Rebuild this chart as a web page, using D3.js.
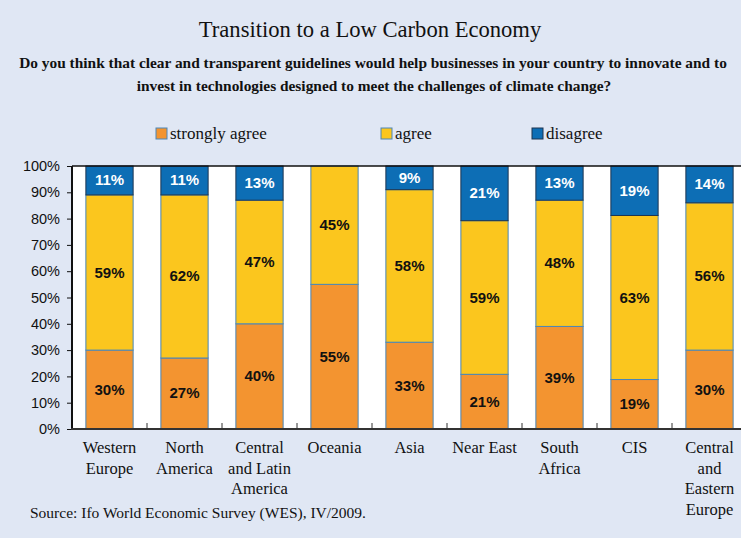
<!DOCTYPE html>
<html>
<head>
<meta charset="utf-8">
<script src="https://cdn.jsdelivr.net/npm/d3@7"></script>
<style>
  body { margin: 0; background: #e0e7f4; }
  svg { display: block; }
</style>
</head>
<body>
<script>
const W = 741, H = 538;
const regions = [["Western", "Europe"], ["North", "America"], ["Central", "and Latin", "America"], ["Oceania"], ["Asia"], ["Near East"], ["South", "Africa"], ["CIS"], ["Central", "and", "Eastern", "Europe"]];
const stronglyAgree = [30, 27, 40, 55, 33, 21, 39, 19, 30];
const agree = [59, 62, 47, 45, 58, 59, 48, 63, 56];
const disagree = [11, 11, 13, 0, 9, 21, 13, 19, 14];
const seriesNames = ["strongly agree", "agree", "disagree"];
const yTicks = [0, 0.1, 0.2, 0.3, 0.4, 0.5, 0.6, 0.7, 0.8, 0.9, 1];

const colors = {"strongly agree": "#f39430", "agree": "#fbc61e", "disagree": "#0d6eb5"};
const strokes = {"strongly agree": "#4a86b8", "agree": "#4a86b8", "disagree": "#1d3550"};

const rows = regions.map((r, i) => ({
  key: i,
  "strongly agree": stronglyAgree[i],
  "agree": agree[i],
  "disagree": disagree[i]
}));

const svg = d3.select("body").append("svg").attr("width", W).attr("height", H);
svg.append("rect").attr("width", W).attr("height", H).attr("fill", "#e0e7f4");

// titles
svg.append("text").attr("x", 370).attr("y", 37).attr("text-anchor", "middle")
  .style("font", "22.6px 'Liberation Serif', serif").attr("fill", "#111")
  .text("Transition to a Low Carbon Economy");
const sub = svg.append("g").style("font", "bold 15.4px 'Liberation Serif', serif").attr("fill", "#111");
sub.append("text").attr("x", 373).attr("y", 68).attr("text-anchor", "middle")
  .text("Do you think that clear and transparent guidelines would help businesses in your country to innovate and to");
sub.append("text").attr("x", 374).attr("y", 91).attr("text-anchor", "middle")
  .text("invest in technologies designed to meet the challenges of climate change?");

// legend
const legX = [156, 381, 532];
const legend = svg.append("g").style("font", "17px 'Liberation Serif', serif");
seriesNames.forEach((s, i) => {
  legend.append("rect").attr("x", legX[i]).attr("y", 128).attr("width", 11).attr("height", 11)
    .attr("fill", colors[s]).attr("stroke", strokes[s]).attr("stroke-width", 1);
  legend.append("text").attr("x", legX[i] + 14).attr("y", 139).attr("fill", "#111").text(s);
});

// scales
const x = d3.scaleBand().domain(d3.range(regions.length)).range([72, 747])
  .paddingInner(0.37).paddingOuter(0.185);
const y = d3.scaleLinear().domain([0, 1]).range([429, 166]);

svg.append("rect").attr("x", 72).attr("y", 166).attr("width", 675).attr("height", 263).attr("fill", "#fff");

const stack = d3.stack().keys(seriesNames).offset(d3.stackOffsetExpand);
const layers = stack(rows);

const gBars = svg.append("g");
layers.forEach(layer => {
  const s = layer.key;
  gBars.selectAll(null).data(layer.filter(d => d.data[s] > 0)).enter().append("rect")
    .attr("x", d => x(d.data.key))
    .attr("width", x.bandwidth())
    .attr("y", d => y(d[1]))
    .attr("height", d => y(d[0]) - y(d[1]))
    .attr("fill", colors[s])
    .attr("stroke", strokes[s])
    .attr("stroke-width", 1);
  gBars.selectAll(null).data(layer.filter(d => d.data[s] > 0)).enter().append("text")
    .attr("x", d => x(d.data.key) + x.bandwidth() / 2)
    .attr("y", d => (y(d[0]) + y(d[1])) / 2 + 5)
    .attr("text-anchor", "middle")
    .style("font", "bold 15px 'Liberation Sans', Arial, sans-serif")
    .attr("fill", s === "disagree" ? "#fff" : "#111")
    .text(d => d.data[s] + "%");
});

// y axis
const yAxis = d3.axisLeft(y).tickValues(yTicks).tickFormat(d3.format(".0%")).tickSize(5).tickPadding(7);
const gy = svg.append("g").attr("transform", "translate(72,0)").call(yAxis);
gy.select(".domain").attr("stroke", "#111").attr("stroke-width", 2).attr("d", "M0,166V429");
gy.selectAll(".tick line").attr("stroke", "#111");
gy.selectAll(".tick text").style("font", "14.5px 'Liberation Sans', Arial, sans-serif").attr("fill", "#111");

// top border
svg.append("line").attr("x1", 72).attr("x2", 747).attr("y1", 166).attr("y2", 166)
  .attr("stroke", "#111").attr("stroke-width", 1.5);

// x axis
const gx = svg.append("g");
gx.append("line").attr("x1", 71).attr("x2", 747).attr("y1", 429).attr("y2", 429)
  .attr("stroke", "#333").attr("stroke-width", 2);
gx.selectAll(null).data(d3.range(1, regions.length)).enter().append("line")
  .attr("x1", d => x(d) - x.step() * 0.185).attr("x2", d => x(d) - x.step() * 0.185)
  .attr("y1", 423).attr("y2", 429).attr("stroke", "#333").attr("stroke-width", 1);
const labels = gx.selectAll(null).data(regions).enter().append("text")
  .attr("x", (d, i) => x(i) + x.bandwidth() / 2)
  .attr("y", 453)
  .attr("text-anchor", "middle")
  .style("font", "16.5px 'Liberation Serif', serif")
  .attr("fill", "#111");
labels.selectAll("tspan").data(d => d).enter().append("tspan")
  .attr("x", function () { return this.parentNode.getAttribute("x"); })
  .attr("dy", (d, i) => i === 0 ? 0 : 20.5)
  .text(d => d);

svg.append("text").attr("x", 30).attr("y", 518)
  .style("font", "15.5px 'Liberation Serif', serif").attr("fill", "#111")
  .text("Source: Ifo World Economic Survey (WES), IV/2009.");
</script>
</body>
</html>
